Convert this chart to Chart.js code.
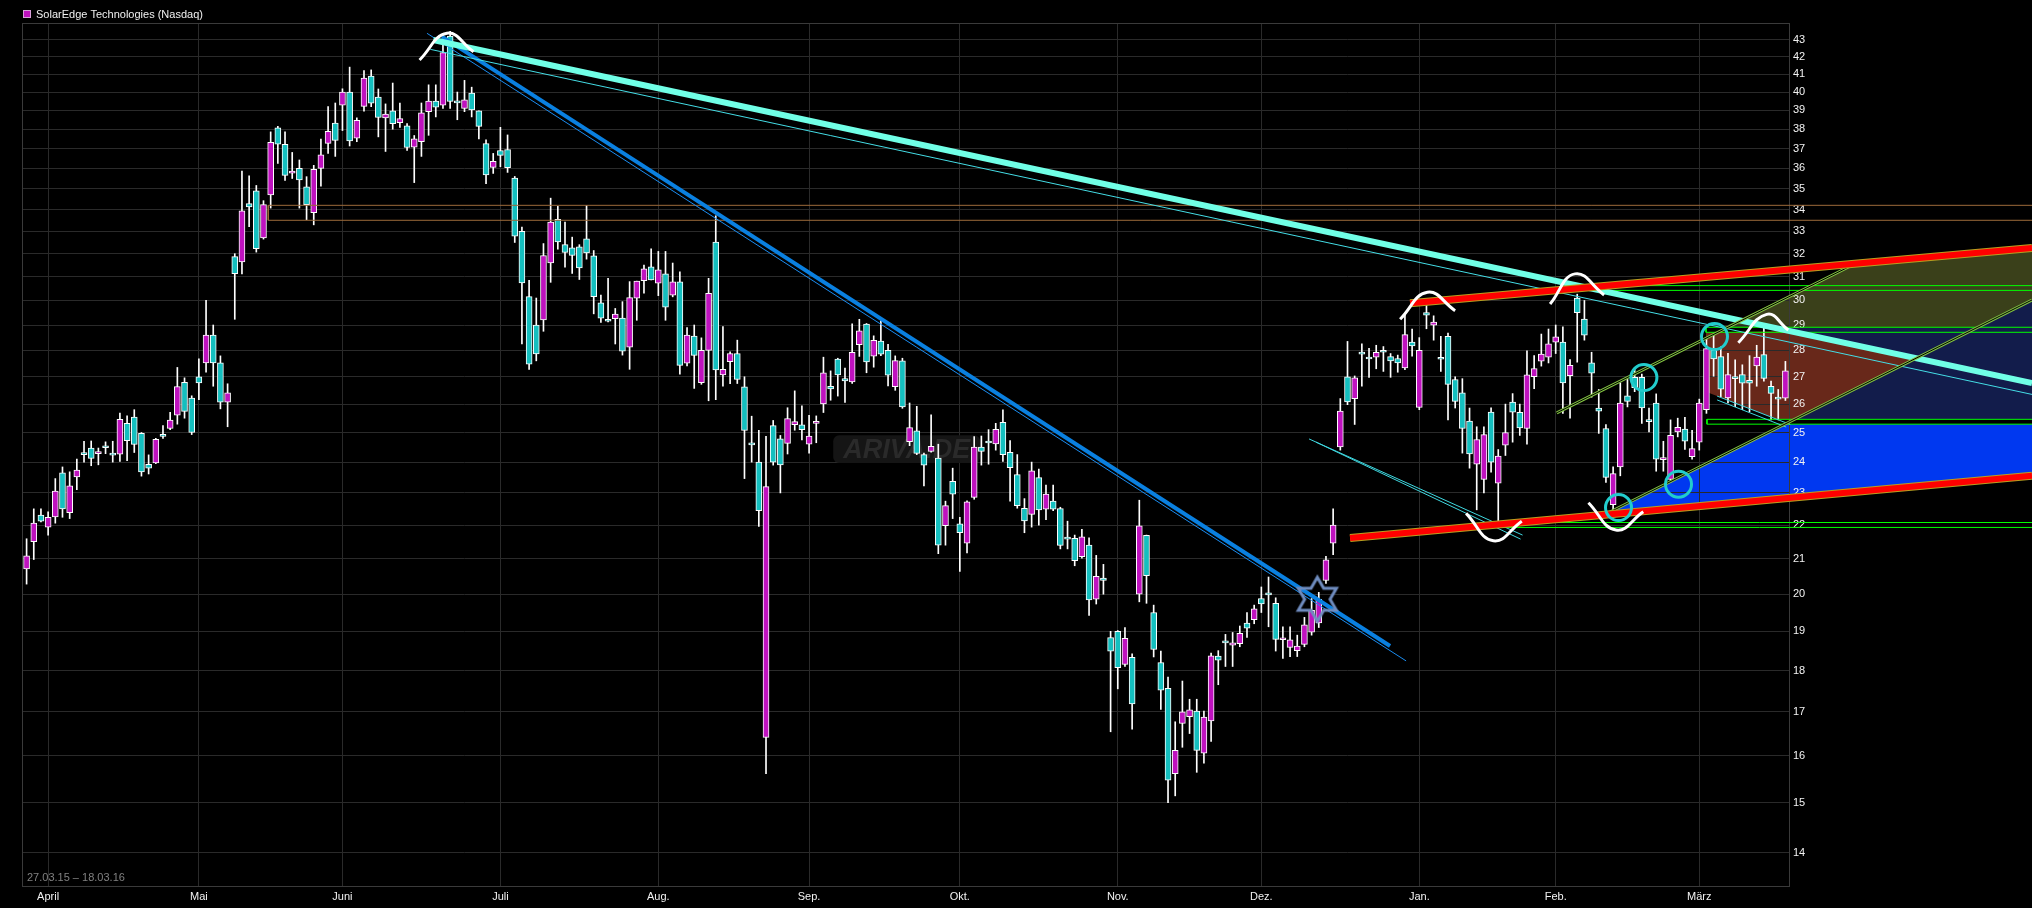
<!DOCTYPE html>
<html><head><meta charset="utf-8">
<script src="https://cdn.jsdelivr.net/npm/chart.js@4.4.0/dist/chart.umd.min.js"></script>
<style>html,body{margin:0;padding:0;background:#000;overflow:hidden}canvas{display:block}</style>
</head><body>
<canvas id="c" width="2032" height="908"></canvas>
<script>
// ---- axis data ----
const monthIdx = [3, 24, 44, 66, 88, 109, 130, 152, 172, 194, 213, 233];
const monthLabels = ["April", "Mai", "Juni", "Juli", "Aug.", "Sep.", "Okt.", "Nov.", "Dez.", "Jan.", "Feb.", "März"];
const priceTicks = [14,15,16,17,18,19,20,21,22,23,24,25,26,27,28,29,30,31,32,33,34,35,36,37,38,39,40,41,42,43];
const seriesName = "SolarEdge Technologies (Nasdaq)";
const periodText = "27.03.15 – 18.03.16";

// ---- daily candles 27.03.15 .. 17.03.16 ----
const opens = [
20.71,21.5,22.31,21.94,22.25,23.65,22.38,23.51,24.29,24.47,
24.28,24.5,24.25,24.26,25.32,25.54,24.97,23.93,23.97,24.93,
25.14,25.61,26.79,26.22,27.0,27.52,28.6,27.52,26.07,31.87,
31.64,34.29,34.9,32.7,34.7,38.07,37.21,35.76,36.0,35.1,
33.86,36.0,37.26,38.32,39.28,40.0,37.53,39.22,40.89,39.72,
38.6,38.98,38.35,38.18,37.07,37.35,38.93,39.5,39.28,43.22,
39.45,39.1,39.94,38.98,37.25,36.05,36.9,36.95,35.52,33.0,
30.16,29.0,29.2,31.6,33.56,32.4,32.26,32.31,32.66,31.91,
29.9,29.18,29.25,29.28,28.13,30.09,30.83,31.43,30.72,31.12,
30.22,30.78,27.51,28.56,26.78,28.0,32.52,27.07,27.57,27.88,
26.63,24.62,24.0,16.41,25.24,24.78,24.63,25.27,25.27,24.6,
25.32,26.01,26.65,27.67,26.93,26.81,28.22,29.04,27.78,28.36,
28.0,26.63,27.6,24.69,25.06,24.25,24.36,24.13,21.98,23.37,
22.04,21.46,22.86,24.5,24.68,24.61,25.35,24.33,23.59,22.52,
22.33,23.49,22.49,22.74,22.51,21.62,21.6,21.06,21.4,19.86,
20.45,18.84,19.0,18.15,18.33,20.0,21.69,19.5,18.2,17.56,
15.61,16.73,16.89,17.02,16.06,16.79,18.36,18.74,18.64,18.68,
19.22,19.31,19.88,20.02,19.75,18.78,18.58,18.5,18.66,18.98,
19.22,20.38,21.46,24.51,27.0,26.2,27.93,27.73,27.74,28.0,
27.76,27.69,27.33,28.32,25.88,29.5,28.99,27.72,28.55,26.9,
26.41,25.4,23.93,23.43,25.72,23.31,24.57,26.07,25.71,25.14,
27.0,27.59,27.74,28.32,28.32,27.04,30.1,29.24,27.52,25.86,
25.14,22.63,23.84,26.3,26.98,26.98,25.42,26.04,24.08,23.43,
25.02,25.12,24.18,24.67,25.8,28.01,27.76,26.22,26.97,27.08,
26.87,27.41,27.84,26.65,26.22,26.21];
const highs = [
21.59,22.5,22.5,22.41,23.46,23.84,23.68,24.1,24.7,24.71,
24.47,24.68,24.7,25.68,25.58,25.8,25.0,24.24,24.8,25.24,
25.71,27.35,26.96,26.3,27.68,30.0,29.0,27.79,26.74,32.0,
35.87,35.63,35.16,34.43,37.86,38.15,37.86,36.8,36.42,35.59,
36.15,37.49,39.2,39.4,40.18,41.4,38.6,41.2,41.24,40.17,
39.35,40.5,39.4,38.3,37.67,39.4,40.4,40.4,42.82,43.5,
40.0,40.65,40.27,38.98,37.45,36.75,38.1,37.7,35.6,33.2,
30.85,30.1,32.45,34.55,34.16,33.43,32.74,32.4,34.2,32.14,
30.22,30.93,29.67,29.95,30.79,30.81,31.5,32.22,32.1,32.1,
31.59,31.21,28.9,29.0,28.49,30.93,33.72,28.94,27.95,28.4,
27.0,25.57,25.08,24.87,25.42,24.9,25.87,26.48,25.94,25.6,
25.58,27.74,27.22,27.7,27.33,29.05,29.23,29.06,28.57,29.18,
28.24,27.79,27.7,26.04,25.92,24.3,25.62,24.6,22.74,23.8,
22.24,22.75,24.86,24.88,25.1,25.32,25.8,24.72,24.25,22.82,
24.0,23.77,23.25,23.25,22.55,22.12,21.7,21.87,21.62,21.1,
20.84,19.0,19.02,19.1,18.42,22.77,21.7,19.7,18.49,17.84,
16.77,17.74,17.3,17.3,17.02,18.44,18.5,18.92,18.97,19.14,
19.5,19.7,20.2,20.48,19.9,19.12,19.12,18.9,19.37,19.88,
20.05,21.07,22.5,26.2,28.35,27.03,28.26,28.08,28.2,28.15,
27.88,27.82,29.41,28.84,28.5,30.0,29.37,28.55,28.68,27.0,
26.93,25.86,25.2,25.2,25.87,24.42,26.0,26.38,26.0,27.98,
27.8,28.64,28.84,29.0,28.93,27.65,30.26,30.0,27.93,26.53,
25.28,23.84,26.78,26.9,27.27,27.1,25.86,26.37,24.7,25.44,
25.5,25.53,25.08,26.18,28.46,28.6,28.14,27.89,27.64,27.45,
27.8,28.2,28.9,26.84,26.53,27.58];
const lows = [
20.28,20.98,22.1,21.7,22.06,22.24,22.2,23.1,24.0,23.88,
23.91,24.28,24.0,24.02,24.05,24.32,23.54,23.61,23.95,24.8,
25.1,25.29,25.5,24.93,26.16,27.17,26.65,25.83,25.2,29.23,
31.12,33.22,32.07,32.65,34.08,36.25,35.41,35.5,34.08,33.54,
33.3,35.13,36.75,36.6,37.93,37.13,37.35,38.96,39.2,37.6,
36.85,38.0,38.1,36.9,35.3,36.6,37.68,38.65,39.11,39.1,
38.5,38.93,38.65,37.5,35.25,35.75,36.08,35.8,32.5,28.25,
27.28,27.6,28.75,30.76,32.2,31.41,31.14,30.88,31.76,29.45,
29.1,29.12,28.25,27.82,27.28,29.19,30.3,30.86,30.2,29.19,
30.15,27.1,27.41,26.57,26.72,26.12,26.16,26.65,26.74,26.75,
23.46,24.0,21.96,15.61,23.9,23.0,24.27,25.08,24.75,24.3,
24.65,25.7,26.14,26.29,26.06,26.75,27.77,27.15,27.36,27.8,
26.66,26.5,25.85,24.55,24.25,23.22,24.33,21.15,21.4,22.2,
20.64,21.17,22.8,23.9,23.93,24.4,24.02,22.74,22.52,21.77,
21.94,22.0,22.17,22.44,21.29,21.29,20.8,21.02,19.42,19.73,
20.0,16.54,17.55,18.1,16.6,19.79,19.75,18.34,17.06,15.0,
15.14,16.19,16.5,15.64,15.84,16.32,17.65,18.1,18.1,18.6,
18.84,19.2,19.5,19.12,18.49,18.3,18.35,18.35,18.6,18.9,
19.1,20.3,21.12,24.4,25.98,25.28,26.65,26.98,27.3,27.2,
26.98,27.17,27.27,27.78,25.8,28.85,28.4,27.2,25.44,25.86,
24.3,23.8,22.47,23.0,23.67,22.0,24.22,24.67,24.9,24.6,
26.56,27.4,27.52,27.88,25.67,25.5,27.55,28.4,26.25,24.97,
23.34,22.26,23.55,25.9,26.45,25.32,25.02,23.7,23.7,23.34,
24.85,24.42,24.1,24.4,25.67,27.02,26.27,26.04,25.91,25.8,
25.73,26.65,26.84,25.44,25.44,26.13];
const closes = [
21.09,22.06,22.12,22.24,23.06,22.5,23.23,23.74,24.25,24.12,
24.33,24.48,24.23,25.46,24.72,24.59,23.68,23.8,24.77,24.87,
25.43,26.64,25.74,25.0,26.77,28.6,27.52,26.07,26.41,31.13,
33.95,34.14,32.22,34.24,37.32,37.22,35.65,35.87,35.43,34.24,
35.95,36.68,37.89,37.42,40.0,37.39,38.47,40.78,39.39,38.62,
38.8,38.29,38.56,37.05,37.5,38.87,39.5,39.17,42.24,39.48,
39.41,39.57,39.02,38.15,35.67,36.35,36.65,36.03,32.78,30.74,
27.47,27.87,31.92,33.43,32.52,32.06,31.92,31.38,32.03,30.16,
29.28,29.15,29.44,27.97,30.12,30.81,31.34,30.86,31.29,29.72,
30.78,27.43,28.6,27.81,28.0,30.3,27.26,27.28,27.88,26.9,
25.07,24.58,22.44,23.2,24.0,23.91,25.49,25.38,25.1,24.88,
25.39,27.15,26.55,27.07,26.85,27.93,28.77,27.56,28.39,27.86,
27.06,27.61,25.9,25.17,24.29,23.9,24.53,21.4,22.6,22.96,
21.77,22.72,24.5,24.36,24.64,25.11,24.25,23.82,22.6,22.13,
23.71,22.47,22.96,22.49,21.39,21.58,20.95,21.65,19.84,20.5,
20.38,18.49,18.07,18.82,17.19,21.98,20.52,18.53,17.52,15.47,
16.12,17.0,17.05,16.12,16.88,18.37,18.26,18.7,18.7,18.95,
19.08,19.6,19.73,19.98,18.79,18.82,18.78,18.62,19.17,19.56,
19.86,20.97,22.0,25.75,26.08,26.96,27.86,27.67,27.93,27.93,
27.6,27.52,28.62,28.17,28.0,29.4,29.12,27.66,26.72,26.1,
25.14,24.27,24.76,24.93,24.0,24.2,25.0,25.71,25.16,27.07,
27.31,27.86,28.26,28.53,26.77,27.43,29.5,28.6,27.13,25.75,
23.5,23.62,26.04,26.1,26.6,25.86,25.38,24.1,24.15,24.9,
25.18,24.7,24.45,26.04,28.07,27.67,26.54,27.08,26.93,26.76,
26.76,27.74,26.94,26.39,26.18,27.22];

// ---- drawn analysis objects, in (candle index, price) ----
const thickCyanLine = [[56.64, 42.98], [279.35, 26.77]];
const thinCyanLine = [[56.23, 42.43], [279.35, 26.35]];
const thickBlueLine = [[57.86, 43.18], [189.93, 18.62]];
const thinBlueLine = [[55.77, 43.38], [192.16, 18.24]];
const upperRedLine = [[192.72, 29.88], [279.35, 32.25]];
const lowerRedLine = [[184.36, 21.61], [279.35, 23.55]];
const upperChannel = [[213.15, 25.69], [255.47, 31.68]];
const lowerChannel = [[220.01, 22.34], [279.35, 30.02]];
const janChannel1 = [[178.64, 24.78], [208.39, 21.7]];
const janChannel2 = [[179.62, 24.67], [208.11, 21.58]];
const marChannel1 = [[235.49, 26.29], [245.67, 25.28]];
const marChannel2 = [[235.49, 26.15], [245.11, 25.19]];
const greenBand1 = [[279.35, 30.62], [215.83, 30.62], [215.83, 30.42], [279.35, 30.42]];
const greenBand2 = [[279.35, 28.91], [233.94, 28.91], [233.94, 28.71], [279.35, 28.71]];
const greenBand3 = [[279.35, 25.46], [234.07, 25.46], [234.07, 25.29], [279.35, 25.29]];
const greenBand4 = [[279.35, 22.08], [203.47, 22.08], [203.47, 21.93], [279.35, 21.93]];
const resistanceBand = [[279.35, 34.21], [33.66, 34.21], [33.66, 33.51], [279.35, 33.51]];
const arcPeakJun = [[54.74, 41.81], [58.55, 43.38], [62.26, 42.29]];
const arcPeakJan = [[191.33, 29.23], [195.13, 30.34], [198.99, 29.58]];
const arcPeakFeb = [[212.22, 29.85], [215.7, 31.12], [219.74, 30.23]];
const arcPeakMar = [[238.44, 28.3], [242.39, 29.43], [245.4, 28.8]];
const arcTroughJan = [[200.52, 22.36], [204.32, 21.53], [208.28, 22.12]];
const arcTroughFeb = [[217.56, 22.69], [221.4, 21.85], [225.2, 22.41]];
const circleMarks = [[221.75, 22.54], [225.29, 26.97], [230.11, 23.28], [235.12, 28.54]];
const starMark = [[179.8, 19.86]];
const navyZone = [[245.64, 28.91], [271.78, 28.91], [279.35, 30.02], [279.35, 25.46], [245.64, 25.46]];
const oliveZone = [[236.38, 28.91], [255.47, 31.68], [279.35, 32.25], [279.35, 30.02], [271.78, 28.91]];
const brownZone = [[233.94, 28.71], [245.64, 28.76], [263.23, 27.7], [246.27, 25.46], [243.79, 25.46], [233.94, 26.45]];
const blueZone = [[220.01, 22.33], [244.9, 25.29], [279.35, 25.29], [279.35, 23.55]];
const watermarkBox = [[112.36, 24.91], [132.83, 23.97]];

// ---- styling ----
const FONT = '"Liberation Sans", Arial, sans-serif';
const UP = '#bf12bf', DOWN = '#14bfbf';
const zones = [
  {pts: navyZone, color: '#121c4b'},
  {pts: oliveZone, color: '#3a401a'},
  {pts: brownZone, color: '#68281a'},
  {pts: blueZone, color: '#0038f0'}
];

const P = a => a.map(p => ({x: p[0], y: p[1]}));
function lineDs(arr, color, width, extra) {
  return Object.assign({type: 'line', data: P(arr), borderColor: color, borderWidth: width,
    pointRadius: 0, fill: false, tension: 0, clip: false, borderCapStyle: 'butt'}, extra || {});
}

function makeStar() {
  const c = document.createElement('canvas'); c.width = 54; c.height = 54;
  const g = c.getContext('2d');
  g.strokeStyle = '#6f8cbf'; g.lineWidth = 3; g.lineJoin = 'miter';
  g.beginPath();
  for (let k = 0; k < 12; k++) {
    const r = k % 2 === 0 ? 22 : 12.7;
    const a = -Math.PI / 2 + k * Math.PI / 6;
    const px = 27 + r * Math.cos(a), py = 27 + r * Math.sin(a);
    if (k) g.lineTo(px, py); else g.moveTo(px, py);
  }
  g.closePath(); g.stroke();
  return c;
}

const layers = [
  {type: 'bar', data: highs.map((h, i) => ({x: i, y: [lows[i], h]})), backgroundColor: '#ffffff',
   barThickness: 1, grouped: false, borderWidth: 0},
  {type: 'bar', label: seriesName,
   data: opens.map((o, i) => ({x: i, y: [Math.min(o, closes[i]), Math.max(o, closes[i])]})),
   backgroundColor: opens.map((o, i) => closes[i] >= o ? UP : DOWN),
   borderColor: '#ffffff', borderWidth: 1, borderSkipped: false, barThickness: 6, minBarLength: 2, grouped: false},
  lineDs(resistanceBand, '#9c6a3a', 1),
  lineDs(greenBand1, '#00ff00', 1),
  lineDs(greenBand2, '#00ff00', 1),
  lineDs(greenBand3, '#00ff00', 1),
  lineDs(greenBand4, '#00ff00', 1),
  lineDs(janChannel1, '#3fd8e0', 1),
  lineDs(janChannel2, '#3fd8e0', 1),
  lineDs(marChannel1, '#3fd8e0', 1),
  lineDs(marChannel2, '#3fd8e0', 1),
  lineDs(thinBlueLine, '#1a8cf0', 1),
  lineDs(thickBlueLine, '#0a80e0', 4),
  lineDs(thinCyanLine, '#44dde6', 1),
  lineDs(thickCyanLine, '#70ffe6', 6),
  lineDs(upperChannel, '#80c040', 3),
  lineDs(upperChannel, '#000000', 1),
  lineDs(lowerChannel, '#80c040', 3),
  lineDs(lowerChannel, '#000000', 1),
  lineDs(upperRedLine, '#b8a020', 8),
  lineDs(upperRedLine, '#ff0000', 6),
  lineDs(lowerRedLine, '#b8a020', 8),
  lineDs(lowerRedLine, '#ff0000', 6),
  lineDs(arcPeakJun, '#ffffff', 3, {tension: 0.45}),
  lineDs(arcPeakJan, '#ffffff', 3, {tension: 0.45}),
  lineDs(arcPeakFeb, '#ffffff', 3, {tension: 0.45}),
  lineDs(arcPeakMar, '#ffffff', 3, {tension: 0.45}),
  lineDs(arcTroughJan, '#ffffff', 3, {tension: 0.45}),
  lineDs(arcTroughFeb, '#ffffff', 3, {tension: 0.45}),
  {type: 'line', data: P(circleMarks), showLine: false, pointRadius: 13, pointBorderWidth: 3,
   pointBorderColor: '#22cccc', pointBackgroundColor: 'rgba(0,0,0,0)', clip: false},
  {type: 'line', data: P(starMark), showLine: false, pointStyle: makeStar(), pointRadius: 20, clip: false}
];
layers.forEach((d, i) => { d.order = layers.length - i; });

const decor = {
  id: 'decor',
  beforeDraw(chart) {
    const {ctx, scales: {x, y}} = chart;
    ctx.save();
    ctx.fillStyle = '#000'; ctx.fillRect(0, 0, chart.width, chart.height);
    zones.forEach(z => {
      ctx.beginPath();
      z.pts.forEach((p, k) => {
        const px = x.getPixelForValue(p[0]), py = y.getPixelForValue(p[1]);
        if (k) ctx.lineTo(px, py); else ctx.moveTo(px, py);
      });
      ctx.closePath(); ctx.fillStyle = z.color; ctx.fill();
    });
    ctx.restore();
  },
  beforeDatasetsDraw(chart) {
    const {ctx, chartArea: a, scales: {x, y}} = chart;
    ctx.save();
    // frame
    ctx.strokeStyle = '#3a3a3a'; ctx.lineWidth = 1;
    ctx.strokeRect(Math.round(a.left) - 0.5, Math.round(a.top) + 0.5, Math.round(a.right - a.left) + 1, Math.round(a.bottom - a.top) - 1);
    // watermark
    const x0 = x.getPixelForValue(watermarkBox[0][0]), x1 = x.getPixelForValue(watermarkBox[1][0]);
    const y0 = y.getPixelForValue(watermarkBox[0][1]), y1 = y.getPixelForValue(watermarkBox[1][1]);
    ctx.fillStyle = '#151515';
    ctx.beginPath();
    if (ctx.roundRect) ctx.roundRect(x0, y0, x1 - x0, y1 - y0, 6); else ctx.rect(x0, y0, x1 - x0, y1 - y0);
    ctx.fill();
    ctx.fillStyle = '#2a2a2a';
    ctx.font = 'italic bold 27px ' + FONT;
    ctx.textAlign = 'center'; ctx.textBaseline = 'middle';
    ctx.fillText('ARIVA.DE', (x0 + x1) / 2, (y0 + y1) / 2 + 1);
    // period text
    ctx.fillStyle = '#808080';
    ctx.font = '11px ' + FONT;
    ctx.textAlign = 'left';
    ctx.fillText(periodText, a.left + 4, a.bottom - 9);
    ctx.restore();
  },
  afterDraw(chart) {
    const {ctx} = chart;
    ctx.save();
    ctx.fillStyle = UP;
    ctx.fillRect(23, 10, 8, 8);
    ctx.strokeStyle = '#d8a0d8'; ctx.lineWidth = 1;
    ctx.strokeRect(23.5, 10.5, 7, 7);
    ctx.fillStyle = '#f0f0f0';
    ctx.font = '11px ' + FONT;
    ctx.textAlign = 'left'; ctx.textBaseline = 'middle';
    ctx.fillText(seriesName, 36, 14.5);
    ctx.restore();
  }
};

Chart.defaults.font.family = FONT;
new Chart(document.getElementById('c'), {
  type: 'bar',
  data: {datasets: layers},
  options: {
    responsive: false, animation: false, devicePixelRatio: 1, events: [],
    layout: {padding: {left: 23, top: 23, right: 0, bottom: 0}},
    plugins: {legend: {display: false}, tooltip: {enabled: false}},
    scales: {
      x: {
        type: 'linear', min: -0.5, max: 245.5, offset: false, position: 'bottom',
        afterBuildTicks: s => { s.ticks = monthIdx.map(v => ({value: v})); },
        afterFit: s => { s.height = 21; },
        ticks: {autoSkip: false, maxRotation: 0, color: '#f2f2f2', padding: 3, font: {size: 11},
                callback: (v, i) => monthLabels[i]},
        grid: {color: '#2a2a2a', drawTicks: false, offset: false},
        border: {display: false}
      },
      y: {
        type: 'logarithmic', position: 'right', min: 13.35, max: 44.0,
        afterBuildTicks: s => { s.ticks = priceTicks.map(v => ({value: v})); },
        afterFit: s => { s.width = 243; },
        ticks: {color: '#f2f2f2', padding: 4, font: {size: 11}, callback: v => String(v)},
        grid: {color: '#2a2a2a', drawTicks: false},
        border: {display: false}
      }
    }
  },
  plugins: [decor]
});
</script>
</body></html>
